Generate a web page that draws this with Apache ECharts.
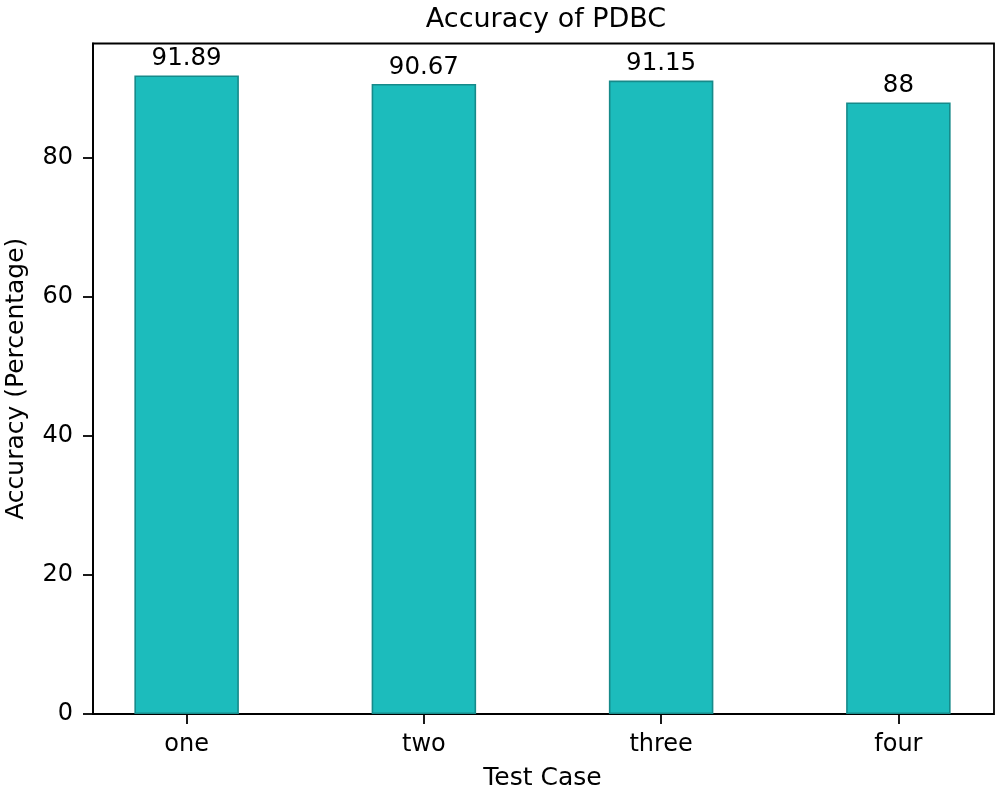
<!DOCTYPE html>
<html>
<head>
<meta charset="utf-8">
<script src="https://cdn.jsdelivr.net/npm/echarts@6/dist/echarts.min.js"></script>
<style>html,body{margin:0;padding:0;background:#fff}#c{width:1000px;height:791px}</style>
</head>
<body>
<div id="c"></div>
<script>
const categories = ['one', 'two', 'three', 'four'];
const accuracy = [91.89, 90.67, 91.15, 88];
const yTicks = [0, 20, 40, 60, 80];

const FONT = 'DejaVu Sans';
const yMax = Math.max(...accuracy) * 1.05;

const chart = echarts.init(document.getElementById('c'), null, {renderer: 'canvas'});
chart.setOption({
  animation: false,
  backgroundColor: '#fff',
  title: {
    text: 'Accuracy of PDBC',
    left: 541, top: 1, textAlign: 'center',
    textStyle: {fontFamily: FONT, fontSize: 27, fontWeight: 'normal', color: '#000'}
  },
  grid: [
    {left: 93, right: 6, top: 43.5, bottom: 77, show: true, borderColor: '#000', borderWidth: 1.8,
     backgroundColor: 'transparent', containLabel: false, outerBoundsMode: 'none'},
    {left: 68, width: 949, top: 43.5, bottom: 77, containLabel: false, outerBoundsMode: 'none'}
  ],
  xAxis: [
    {gridIndex: 0, type: 'value', min: 0, max: 1, show: false},
    {
      gridIndex: 1, type: 'category', data: categories,
      name: 'Test Case', nameLocation: 'middle', nameGap: 52,
      nameTextStyle: {fontFamily: FONT, fontSize: 25, color: '#000'},
      axisLine: {show: false},
      axisTick: {show: true, alignWithLabel: true, length: 10, lineStyle: {color: '#000', width: 1.8}},
      axisLabel: {fontFamily: FONT, fontSize: 24, color: '#000', margin: 19}
    }
  ],
  yAxis: [
    {
      gridIndex: 0, type: 'value', min: 0, max: yMax, interval: 20,
      name: 'Accuracy (Percentage)', nameLocation: 'middle', nameGap: 64,
      nameTextStyle: {fontFamily: FONT, fontSize: 25, color: '#000'},
      axisLine: {show: true, lineStyle: {color: '#000', width: 1.8}},
      axisTick: {show: true, length: 10, customValues: yTicks, lineStyle: {color: '#000', width: 1.8}},
      axisLabel: {fontFamily: FONT, fontSize: 24, color: '#000', margin: 20, customValues: yTicks},
      splitLine: {show: false}
    },
    {gridIndex: 1, type: 'value', min: 0, max: yMax, show: false}
  ],
  series: [{
    type: 'bar', xAxisIndex: 1, yAxisIndex: 1,
    data: accuracy, barWidth: 104.5,
    itemStyle: {color: '#1cbcbc', borderColor: '#168a8a', borderWidth: 1.6},
    label: {show: true, position: 'top', distance: 4, fontFamily: FONT, fontSize: 24.5, color: '#000',
      formatter: p => String(p.value)}
  }]
});
</script>
</body>
</html>
